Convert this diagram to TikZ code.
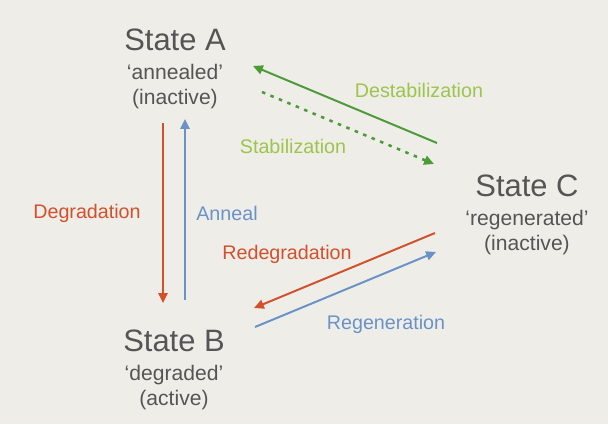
\documentclass[tikz,border=0pt]{standalone}
\usepackage{fontspec}
\setmainfont{Liberation Sans}
\usepackage{xcolor}
\usetikzlibrary{arrows.meta, positioning, calc}

\definecolor{paper}{HTML}{EEEDE8}
\definecolor{stategray}{HTML}{555555}
\definecolor{degred}{HTML}{D2502C}
\definecolor{annblue}{HTML}{6A92C6}
\definecolor{stabgreen}{HTML}{4C9A38}
\definecolor{stabtext}{HTML}{9DC44C}

\begin{document}
\begin{tikzpicture}[x=0.025cm, y=-0.025cm, >={Triangle[length=7pt, width=6.5pt]},
                    every node/.style={font=\fontsize{14}{16}\selectfont},
                    state/.style={align=center, text=stategray,
                                  font=\fontsize{15}{18}\selectfont},
                    lbl/.style={inner sep=1pt},
                    flow/.style={->, line width=1.4pt}]
  \fill[paper] (0,0) rectangle (608,424);
  \useasboundingbox (0,0) rectangle (608,424);
  % states
  \node[state] (stA) at (175,69) {{\fontsize{22}{28}\selectfont State A}\\[2.5pt]
        `annealed'\\(inactive)};
  \node[state] (stB) at (174,370) {{\fontsize{22}{28}\selectfont State B}\\[2.5pt]
        `degraded'\\(active)};
  \node[state] (stC) at (527,215) {{\fontsize{22}{28}\selectfont State C}\\[2.5pt]
        `regenerated'\\(inactive)};
  % arrow ends
  \coordinate (degS) at (163,123);  \coordinate (degE) at (163,303);
  \coordinate (annS) at (185,300);  \coordinate (annE) at (185,119);
  \coordinate (desS) at (437,143);  \coordinate (desE) at (253,66);
  \coordinate (stbS) at (262,92);   \coordinate (stbE) at (434,164);
  \coordinate (redS) at (435,233);  \coordinate (redE) at (254,308);
  \coordinate (regS) at (255,327);  \coordinate (regE) at (436,252);
  % transitions
  \draw[flow, degred] (degS) -- (degE);
  \draw[flow, annblue] (annS) -- (annE);
  \draw[flow, stabgreen] (desS) -- (desE);
  \draw[flow, stabgreen, line width=1.8pt, dash pattern=on 2.5pt off 4pt] (stbS) -- (stbE);
  \draw[flow, degred] (redS) -- (redE);
  \draw[flow, annblue] (regS) -- (regE);
  % labels
  \node[lbl, degred] (lDeg) at (87,213) {Degradation};
  \node[lbl, annblue] (lAnn) at (227,213) {Anneal};
  \node[lbl, stabtext] (lDes) at (419,90) {Destabilization};
  \node[lbl, stabtext] (lStb) at (293,146) {Stabilization};
  \node[lbl, degred] (lRed) at (287,254) {Redegradation};
  \node[lbl, annblue] (lReg) at (386,324) {Regeneration};
\end{tikzpicture}
\end{document}
